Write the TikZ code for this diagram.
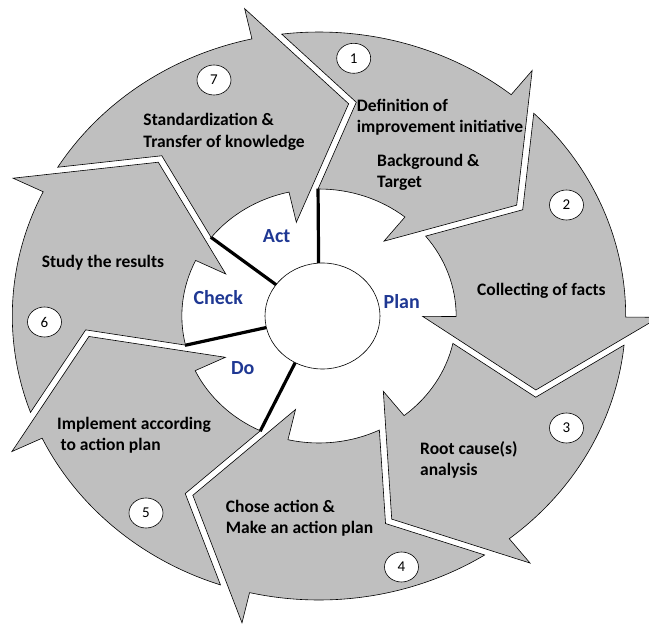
\documentclass[tikz,border=0pt]{standalone}
\usepackage{fontspec}
\setmainfont{Carlito}
\usetikzlibrary{shapes.geometric}
\definecolor{arrowgray}{RGB}{191,191,191}
\definecolor{pdcablue}{RGB}{31,56,147}
\begin{document}
\begin{tikzpicture}[x=1pt,y=1pt,
  arrowshape/.style={fill=arrowgray, draw=black, line width=0.6pt, line join=miter},
  numcirc/.style={ellipse, draw=black, fill=white, line width=0.6pt, minimum width=34pt, minimum height=30pt, inner sep=0pt, font=\fontsize{15}{15}\selectfont},
  steplabel/.style={font=\fontsize{17.5}{21.5}\selectfont\bfseries, align=left, inner sep=0pt},
  phaselabel/.style={font=\fontsize{20}{24}\selectfont\bfseries, text=pdcablue, inner sep=0pt},
  divider/.style={line width=3.2pt}
]
\useasboundingbox (-319,-308) rectangle (330,316);
\begin{scope}[xscale=1.08]
  % dividers between phases
  \foreach \a in {90.4,141.8,193.3,244.7}{
    \draw[divider] (\a:40) -- (\a:127.5);
  }
  % seven circular arrows
  \foreach \k in {1,...,7}{
    \pgfmathsetmacro\ang{51.2-(\k-1)*51.4286}
    \begin{scope}[rotate=\ang]
      \path[arrowshape] (45.78:284) arc[start angle=45.78, end angle=0, radius=284]
        -- (0:315) -- (-20:214) -- (0:96) -- (0:127)
        arc[start angle=0, end angle=39.2, radius=127] -- (29.62:216.5) -- cycle;
    \end{scope}
  }
\end{scope}
% centre circle
\draw[fill=white, line width=0.6pt] (3.5,0) ellipse [x radius=57.5, y radius=53];

% numbers
\node[numcirc] (n1) at (34.7,257.7) {1};
\node[numcirc] (n2) at (247.5,111) {2};
\node[numcirc] (n3) at (247.5,-112) {3};
\node[numcirc] (n4) at (82.5,-251) {4};
\node[numcirc] (n5) at (-173,-197) {5};
\node[numcirc] (n6) at (-274.5,-6) {6};
\node[numcirc] (n7) at (-105,236) {7};

% step labels
\node[steplabel, anchor=west] (t1a) at (37.7,199) {Definition of\\improvement initiative};
\node[steplabel, anchor=west] (t1b) at (58,143.5) {Background \&\\Target};
\node[steplabel, anchor=west] (t2) at (158,25.3) {Collecting of facts};
\node[steplabel, anchor=west] (t3) at (101,-144) {Root cause(s)\\analysis};
\node[steplabel, anchor=west] (t4) at (-93.3,-202) {Chose action \&\\Make an action plan};
\node[steplabel, anchor=west] (t5) at (-262,-119) {Implement according\\\hspace{3.5pt}to action plan};
\node[steplabel, anchor=west] (t6) at (-277.3,53.3) {Study the results};
\node[steplabel, anchor=west] (t7) at (-175.7,184) {Standardization \&\\Transfer of knowledge};

% phase labels
\node[phaselabel] (act) at (-42.3,80) {Act};
\node[phaselabel] (check) at (-100.7,18.7) {Check};
\node[phaselabel] (do) at (-76.3,-52.3) {Do};
\node[phaselabel] (plan) at (82.7,14.3) {Plan};
\end{tikzpicture}
\end{document}
